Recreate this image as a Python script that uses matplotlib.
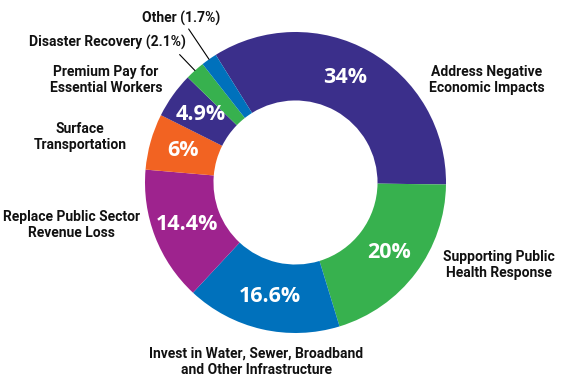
import matplotlib
matplotlib.use("Agg")
import matplotlib.pyplot as plt
import numpy as np

# Daten
categories = [
    "Address Negative\nEconomic Impacts",
    "Supporting Public\nHealth Response",
    "Invest in Water, Sewer, Broadband\nand Other Infrastructure",
    "Replace Public Sector\nRevenue Loss",
    "Surface\nTransportation",
    "Premium Pay for\nEssential Workers",
    "Disaster Recovery (2.1%)",
    "Other (1.7%)",
]
values = [34, 20, 16.6, 14.4, 6, 4.9, 2.1, 1.7]
pct_labels = ["34%", "20%", "16.6%", "14.4%", "6%", "4.9%", "", ""]
colors = ["#3b2f8b", "#37b14e", "#0071bc", "#9e238e", "#f26322",
          "#3b2f8b", "#37b14e", "#0071bc"]

# Layout (Datenkoordinaten, Radius = 1)
label_pos = [(1.27, 0.68), (1.35, -0.55), (-0.26, -1.19), (-1.49, -0.28),
             (-1.43, 0.30), (-1.26, 0.68), (-1.25, 0.93), (-0.76, 1.09)]
pct_shift = {0: 4.0}  # Winkelversatz in Grad fuer einzelne Prozentwerte
leader_end = {6: (-0.77, 0.85), 7: (-0.71, 1.02)}

fig = plt.figure(figsize=(5.68, 3.82), dpi=100)
R = 150.5
cx, cy = 295.5, 382 - 182.5
ax = fig.add_axes([(cx - R) / 568, (cy - R) / 382, 2 * R / 568, 2 * R / 382])

wedges, _ = ax.pie(values, colors=colors, startangle=122, counterclock=False,
                   radius=1, wedgeprops=dict(width=0.455, linewidth=0))
ax.set_xlim(-1, 1)
ax.set_ylim(-1, 1)
ax.axis("off")

for i, w in enumerate(wedges):
    mid = np.deg2rad((w.theta1 + w.theta2) / 2 + pct_shift.get(i, 0))
    if pct_labels[i]:
        r = 0.775
        ax.text(r * np.cos(mid), r * np.sin(mid), pct_labels[i], ha="center", va="center",
                color="white", fontsize=15.5, fontweight="bold", family="Open Sans")
    mid = np.deg2rad((w.theta1 + w.theta2) / 2)
    lx, ly = label_pos[i]
    ax.text(lx, ly, categories[i], ha="center", va="center", fontsize=10,
            fontweight="bold", family="Roboto", color="#111111",
            linespacing=1.2, clip_on=False)
    if i in leader_end:
        ax.annotate("", xy=(np.cos(mid), np.sin(mid)), xytext=leader_end[i],
                    arrowprops=dict(arrowstyle="-", color="black", lw=0.8,
                                    shrinkA=0, shrinkB=0), annotation_clip=False)

fig.savefig("out.png", dpi=100)
